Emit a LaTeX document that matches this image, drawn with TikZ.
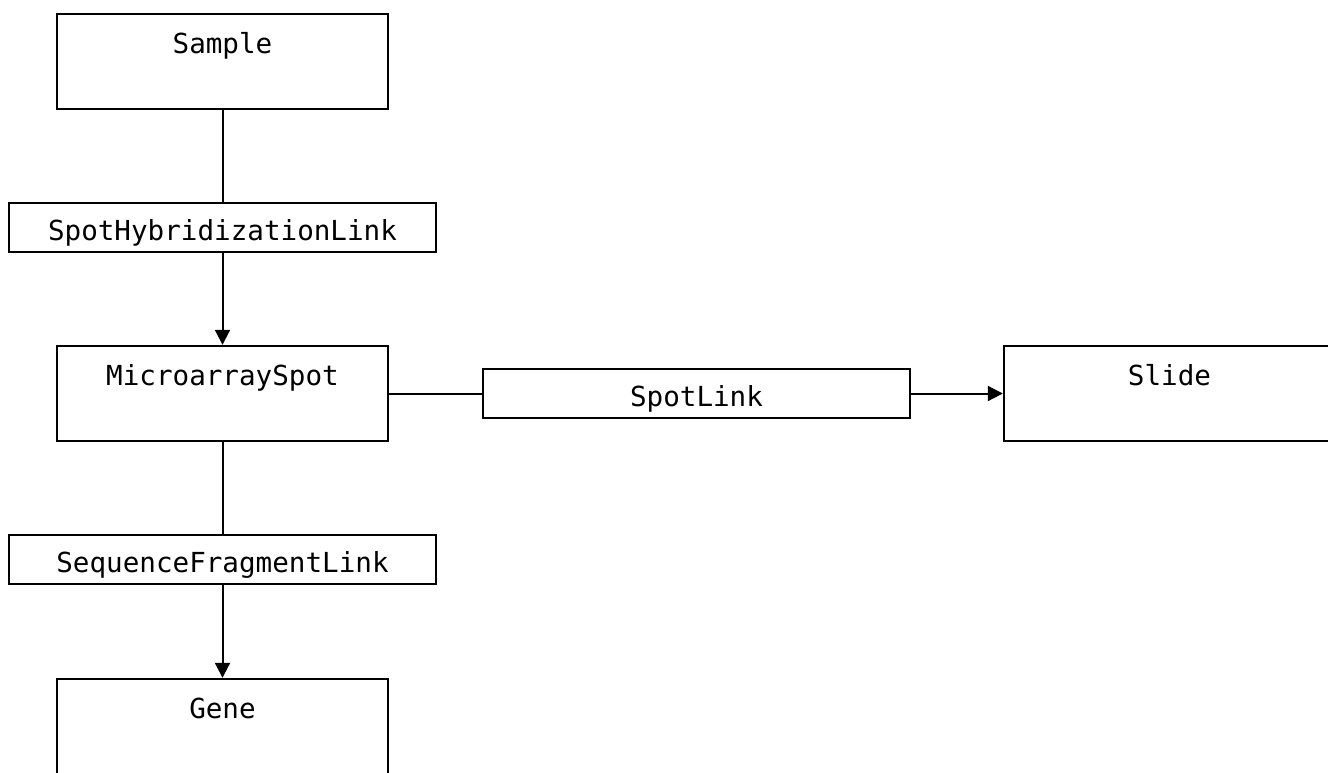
\documentclass[tikz,border=0pt]{standalone}
\usepackage{fontspec}
\setmonofont{DejaVu Sans Mono}
\usetikzlibrary{arrows.meta}
\tikzstyle{entity} = [rectangle, minimum width=165.5pt, inner sep=0pt, text height=19.5pt, text depth=28pt, text centered, draw=black, line width=1.2pt, font=\ttfamily\fontsize{13.8}{16}\selectfont]
\tikzstyle{linkbox} = [rectangle, minimum width=213.5pt, inner sep=0pt, text height=18.5pt, text depth=6pt, text centered, draw=black, line width=1pt, font=\ttfamily\fontsize{13.8}{16}\selectfont]
\tikzstyle{line} = [line width=1pt]
\tikzstyle{arrow} = [line width=1pt, -{Triangle[width=7.5pt,length=7.5pt]}]

\begin{document}
\begin{tikzpicture}[node distance=83pt]
\clip (0,0) rectangle (664pt,-386pt);
%
% Define nodes
%
\node (sample) [entity] at (111.25pt,-30.75pt) {Sample};
\node (spothyb) [linkbox, below of=sample] {SpotHybridizationLink};
\node (spot) [entity, below of=spothyb] {MicroarraySpot};
\node (seqfrag) [linkbox, below of=spot] {SequenceFragmentLink};
\node (gene) [entity, below of=seqfrag, yshift=-0.5pt] {Gene};
\node (spotlink) [linkbox, right of=spot, xshift=154pt] {SpotLink};
\node (slide) [entity, right of=spotlink, xshift=153.5pt] {Slide};
%
% Connect nodes
%
\draw [line] (sample) -- (spothyb);
\draw [arrow] (spothyb) -- (spot);
\draw [line] (spot) -- (seqfrag);
\draw [arrow] (seqfrag) -- (gene);
\draw [line] (spot) -- (spotlink);
\draw [arrow] (spotlink) -- (slide);
\end{tikzpicture}
\end{document}
